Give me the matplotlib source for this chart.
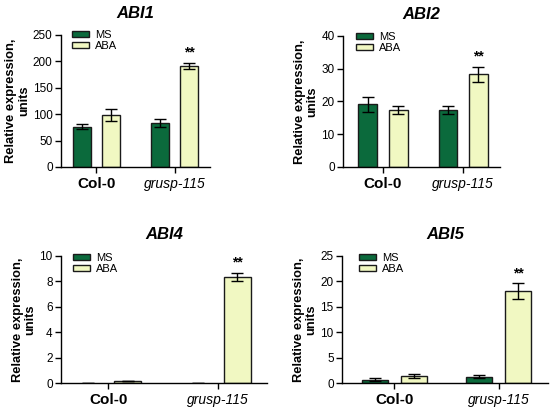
import matplotlib
matplotlib.use("Agg")
import matplotlib.pyplot as plt
from matplotlib.patches import Patch
import numpy as np

plt.rcParams['font.family'] = ['Liberation Sans', 'DejaVu Sans']

groups = ["Col-0", "grusp-115"]
series = ["MS", "ABA"]
genes = ["ABI1", "ABI2", "ABI4", "ABI5"]

abi1_ms = [76, 84]
abi1_ms_err = [4.5, 7.5]
abi1_aba = [98.5, 192]
abi1_aba_err = [10.5, 5.5]

abi2_ms = [19.2, 17.3]
abi2_ms_err = [2.3, 1.2]
abi2_aba = [17.4, 28.3]
abi2_aba_err = [1.3, 2.2]

abi4_ms = [0.0, 0.0]
abi4_ms_err = [0.0, 0.0]
abi4_aba = [0.15, 8.35]
abi4_aba_err = [0.03, 0.35]

abi5_ms = [0.63, 1.27]
abi5_ms_err = [0.33, 0.38]
abi5_aba = [1.4, 18.1]
abi5_aba_err = [0.45, 1.5]

ylims = [250, 40, 10, 25]
ysteps = [50, 10, 2, 5]
stars = ["**", "**", "**", "**"]

ms_color = "#0b6a3c"
aba_color = "#f1f8c2"
edge = "#1a1a1a"

W, H = 550, 412
fig = plt.figure(figsize=(W / 100, H / 100), dpi=100)

# axes boxes in pixels: left, right, top, bottom
boxes = [(61, 210, 35, 167), (343, 500, 36, 167), (61, 267, 256, 383), (342, 548, 256, 383)]
xlims = [(-0.45, 1.45), (-0.50, 1.46), (-0.43, 1.45), (-0.50, 1.47)]
legend_pos = [(72, 30), (356, 32), (73, 253), (359, 253)]
bar_w = [0.235, 0.235, 0.245, 0.25]
offs = [0.185, 0.19, 0.18, 0.187]

data = [
    (abi1_ms, abi1_ms_err, abi1_aba, abi1_aba_err),
    (abi2_ms, abi2_ms_err, abi2_aba, abi2_aba_err),
    (abi4_ms, abi4_ms_err, abi4_aba, abi4_aba_err),
    (abi5_ms, abi5_ms_err, abi5_aba, abi5_aba_err),
]

for i, (gene, box, d) in enumerate(zip(genes, boxes, data)):
    l, r, t, b = box
    ax = fig.add_axes([l / W, 1 - b / H, (r - l) / W, (b - t) / H])
    ms, mse, aba, abae = d
    x = np.arange(len(groups))
    w = bar_w[i]
    o = offs[i]
    ek = dict(ecolor="black", elinewidth=1.0, capthick=1.0)
    ms_lw = [1.0 if v > 0 else 0.0 for v in ms]
    ax.bar(x - o, ms, w, color=ms_color, edgecolor=edge, linewidth=ms_lw,
           yerr=mse, capsize=4, error_kw=ek)
    ax.bar(x + o, aba, w, color=aba_color, edgecolor=edge, linewidth=1.0,
           yerr=abae, capsize=4, error_kw=ek)
    ax.text(x[1] + o, aba[1] + abae[1] + ylims[i] * 0.025, stars[i],
            ha="center", va="bottom", fontsize=10, fontweight="bold")
    ax.set_ylim(0, ylims[i])
    ax.set_yticks(np.arange(0, ylims[i] + 0.001, ysteps[i]))
    ax.set_xlim(*xlims[i])
    ax.set_xticks(x)
    ax.set_xticklabels(groups)
    tl = ax.get_xticklabels()
    tl[0].set_fontweight("bold")
    tl[0].set_fontsize(11)
    tl[1].set_fontstyle("italic")
    tl[1].set_fontsize(10)
    for s in ["top", "right"]:
        ax.spines[s].set_visible(False)
    for s in ["left", "bottom"]:
        ax.spines[s].set_linewidth(1.0)
    ax.tick_params(axis="y", labelsize=8.5, length=4, width=1.0, pad=2)
    ax.tick_params(axis="x", length=4, width=1.0, pad=3)
    ax.set_ylabel("Relative expression,\nunits", fontsize=9.3, fontweight="bold",
                  labelpad=2, linespacing=1.1)
    ax.set_title(gene, fontsize=12, fontweight="bold", fontstyle="italic", pad=12)
    handles = [Patch(facecolor=ms_color, edgecolor=edge, linewidth=1.0),
               Patch(facecolor=aba_color, edgecolor=edge, linewidth=1.0)]
    lx, ly = legend_pos[i]
    ax.legend(handles, series, loc="upper left", bbox_to_anchor=(lx / W, 1 - ly / H),
              bbox_transform=fig.transFigure, frameon=False, fontsize=8,
              handlelength=1.5, handleheight=0.5, labelspacing=0.1,
              handletextpad=0.6, borderpad=0, borderaxespad=0)

fig.savefig("out.png", dpi=100)
